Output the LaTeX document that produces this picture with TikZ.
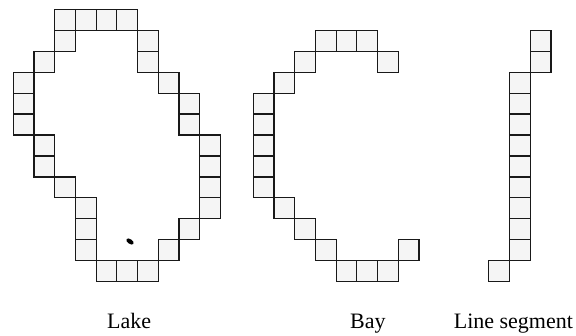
\documentclass[tikz,border=0pt]{standalone}
\usepackage{fontspec}
\setmainfont{Liberation Serif}
\begin{document}
\begin{tikzpicture}[x=1pt,y=-1pt,
  cellbox/.style={draw=black!90,line width=1.2pt,fill=black!4},
  lbl/.style={anchor=base,inner sep=0pt,font=\fontsize{22}{26}\selectfont}]
\useasboundingbox (0,0) rectangle (576,335);
\def\cw{20.7}\def\ch{20.95}\def\yo{9.3}
% Lake
\def\xo{13.3}
\foreach \c/\r in {2/0,3/0,4/0,5/0,2/1,6/1,1/2,6/2,0/3,7/3,0/4,8/4,0/5,8/5,
  1/6,9/6,1/7,9/7,2/8,9/8,3/9,9/9,3/10,8/10,3/11,7/11,4/12,5/12,6/12}
  \draw[cellbox] ({\xo+\c*\cw},{\yo+\r*\ch}) rectangle ++(\cw,\ch);
% Bay
\def\xo{253.3}
\foreach \c/\r in {3/1,4/1,5/1,2/2,6/2,1/3,0/4,0/5,0/6,0/7,0/8,1/9,2/10,3/11,7/11,4/12,5/12,6/12}
  \draw[cellbox] ({\xo+\c*\cw},{\yo+\r*\ch}) rectangle ++(\cw,\ch);
% Line segment
\def\xo{509.5}
\foreach \c/\r in {1/1,1/2,0/3,0/4,0/5,0/6,0/7,0/8,0/9,0/10,0/11,-1/12}
  \draw[cellbox] ({\xo+\c*\cw},{\yo+\r*\ch}) rectangle ++(\cw,\ch);
% ink spot
\fill[black,rotate around={-35:(130,241.5)}] (130,241.5) ellipse (4.2 and 2.3);
% labels
\node[lbl] (lake) at (129.2,328) {Lake};
\node[lbl] (bay) at (367.9,328) {Bay};
\node[lbl] (seg) at (513.4,328) {Line segment};
\end{tikzpicture}
\end{document}
